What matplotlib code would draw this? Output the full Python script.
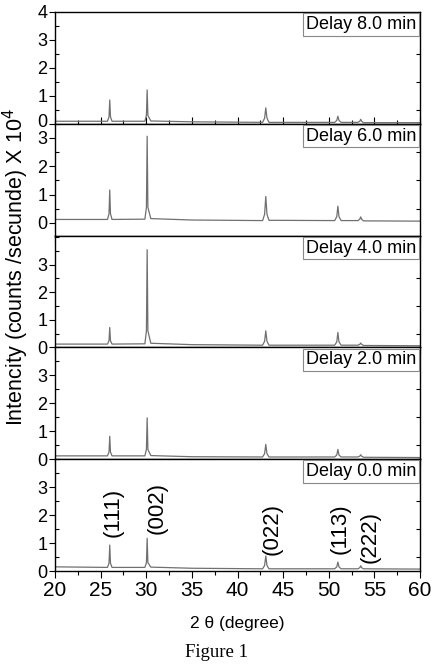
import numpy as np
import matplotlib.pyplot as plt
import matplotlib.transforms as mtransforms
from matplotlib.ticker import MultipleLocator

plt.rcParams['font.family'] = ['Liberation Sans', 'DejaVu Sans']

######################## data ########################

# shared 2-theta sample points (baseline + 5 points around each peak)
two_theta = [20, 25.75, 25.92, 26.0, 26.08, 26.25,
             29.85, 30.02, 30.1, 30.18, 30.5, 35,
             42.75, 42.97, 43.1, 43.23, 43.45,
             50.65, 50.88, 51.0, 51.12, 51.35,
             53.2, 53.4, 53.5, 53.6, 53.8, 60]

# intensity (x 10^4 counts/s), top panel first
delay_8 = [0.09, 0.09, 0.25, 0.85, 0.25, 0.09,
           0.09, 0.30, 1.21, 0.30, 0.10, 0.07,
           0.05, 0.20, 0.57, 0.20, 0.05,
           0.05, 0.12, 0.27, 0.12, 0.05,
           0.05, 0.09, 0.16, 0.09, 0.04, 0.04]
delay_6 = [0.12, 0.12, 0.32, 1.16, 0.32, 0.12,
           0.13, 0.55, 3.06, 0.55, 0.15, 0.10,
           0.08, 0.30, 0.93, 0.30, 0.09,
           0.08, 0.22, 0.59, 0.22, 0.08,
           0.08, 0.13, 0.21, 0.13, 0.07, 0.06]
delay_4 = [0.12, 0.12, 0.24, 0.72, 0.24, 0.12,
           0.13, 0.60, 3.54, 0.60, 0.15, 0.10,
           0.08, 0.22, 0.60, 0.22, 0.08,
           0.08, 0.20, 0.54, 0.20, 0.08,
           0.08, 0.11, 0.16, 0.11, 0.07, 0.06]
delay_2 = [0.12, 0.12, 0.26, 0.82, 0.26, 0.12,
           0.12, 0.35, 1.48, 0.35, 0.13, 0.09,
           0.08, 0.20, 0.53, 0.20, 0.08,
           0.08, 0.15, 0.35, 0.15, 0.08,
           0.08, 0.11, 0.16, 0.11, 0.07, 0.06]
delay_0 = [0.15, 0.13, 0.28, 0.93, 0.28, 0.13,
           0.13, 0.30, 1.17, 0.30, 0.14, 0.10,
           0.08, 0.20, 0.54, 0.20, 0.08,
           0.08, 0.15, 0.32, 0.15, 0.08,
           0.08, 0.12, 0.19, 0.12, 0.08, 0.07]

series = [delay_8, delay_6, delay_4, delay_2, delay_0]
delay_labels = ['Delay 8.0 min', 'Delay 6.0 min', 'Delay 4.0 min',
                'Delay 2.0 min', 'Delay 0.0 min']
y_limits = [(0, 4), (-0.45, 3.5), (0, 4.05), (0, 4), (0, 4)]
y_ticks = [[0, 1, 2, 3, 4], [0, 1, 2, 3], [0, 1, 2, 3], [0, 1, 2, 3], [0, 1, 2, 3]]

# miller indices, x / y of label centre
hkl_labels = ['(111)', '(002)', '(022)', '(113)', '(222)']
hkl_x = [26.4, 31.2, 43.75, 51.2, 54.5]
hkl_y = [2.08, 2.26, 1.5, 1.5, 1.23]

##################################### figure ####################################

fig, axes = plt.subplots(5, 1, sharex=True, figsize=(4.33, 6.64), dpi=100)
fig.subplots_adjust(left=0.127, right=0.970, top=0.982, bottom=0.140, hspace=0)

for i, ax in enumerate(axes):
    ax.plot(two_theta, series[i], color='#707070', lw=0.9)
    ax.set_xlim(20, 60)
    ax.set_ylim(*y_limits[i])
    ax.set_yticks(y_ticks[i])
    ax.yaxis.set_minor_locator(MultipleLocator(0.5))
    ax.xaxis.set_major_locator(MultipleLocator(5))
    ax.xaxis.set_minor_locator(MultipleLocator(2.5))
    for s in ax.spines.values():
        s.set_linewidth(1.0)

    # left: majors out, minors in;  right: minors only
    ax.tick_params(axis='y', which='major', direction='out', length=4, width=0.8,
                   labelsize=13, pad=1.5)
    ax.tick_params(axis='y', which='minor', direction='in', length=3, width=0.8,
                   right=True)
    xdir = 'in' if i == 0 else 'out'
    ax.tick_params(axis='x', which='major', direction=xdir, length=5, width=0.8,
                   labelsize=15, pad=2)
    ax.tick_params(axis='x', which='minor', direction=xdir, length=3, width=0.8)

    ax.text(0.99, 0.965, delay_labels[i], transform=ax.transAxes,
            ha='right', va='top', fontsize=13,
            bbox=dict(boxstyle='square,pad=0.15', fc='white', ec='#888888', lw=0.8))

# nudge the top panel's "0" up a little so it clears the "3" below it
zero_lab = axes[0].get_yticklabels()[0]
zero_lab.set_transform(zero_lab.get_transform() +
                       mtransforms.ScaledTranslation(0, 2.5 / 72, fig.dpi_scale_trans))

for lab, x, y in zip(hkl_labels, hkl_x, hkl_y):
    axes[-1].text(x, y, lab, rotation=90, ha='center', va='center', fontsize=16)

axes[-1].set_xlabel('2 \u03b8 (degree)', fontsize=12.5, labelpad=12)
fig.text(0.036, 0.598, 'Intencity (counts /secunde) X 10$^4$', rotation=90,
         ha='center', va='center', fontsize=15.5)
fig.text(0.5, 0.018, 'Figure 1', ha='center', va='center', fontsize=13.5,
         family='Liberation Serif')

fig.savefig('out.png', dpi=100)
